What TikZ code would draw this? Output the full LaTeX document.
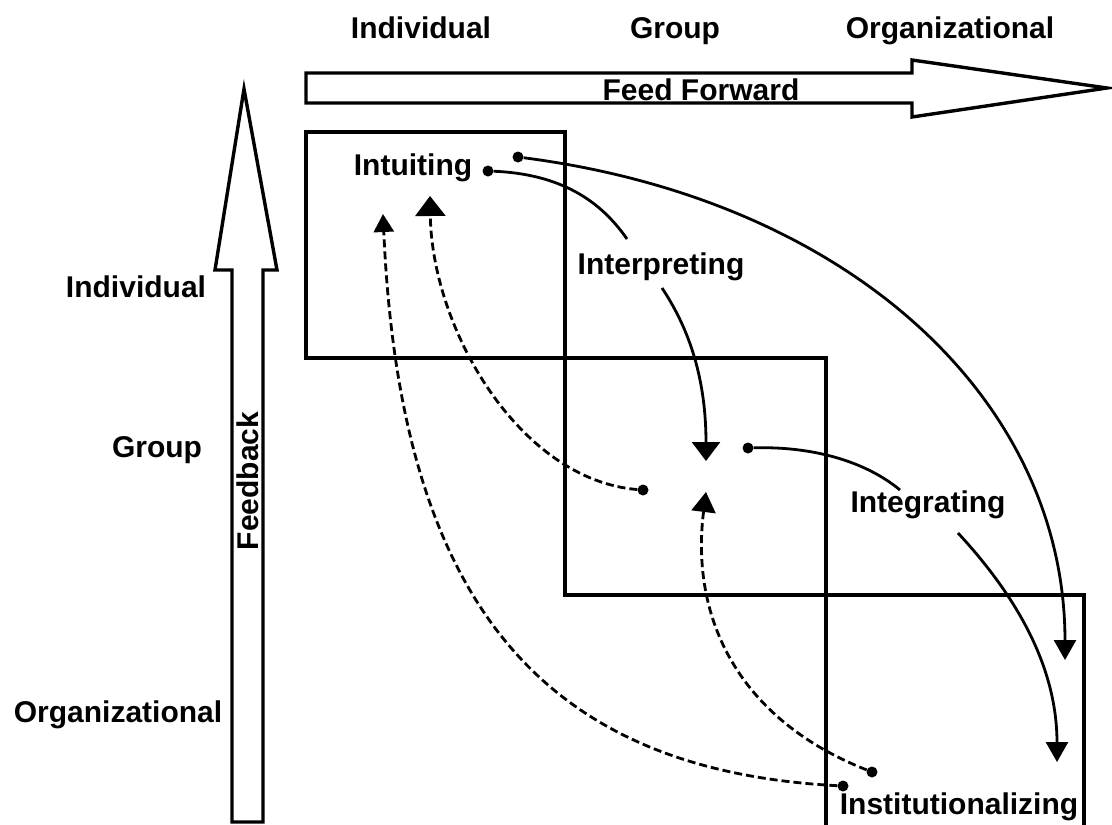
\documentclass[tikz,border=0pt]{standalone}
\usepackage{fontspec}
\setmainfont{Liberation Sans}
\usetikzlibrary{arrows.meta}

\begin{document}
\begin{tikzpicture}[x=1pt, y=-1pt,
    lbl/.style={font=\fontsize{30}{36}\selectfont\bfseries, inner sep=0pt, anchor=base},
    zone/.style={draw, line width=3.2pt},
    bigarrow/.style={draw, line width=3.4pt, fill=white, line join=miter},
    dot/.style={circle, fill, inner sep=0pt, minimum size=11pt},
    flow/.style={line width=2.8pt},
    back/.style={line width=2.8pt, dash pattern=on 8pt off 4pt}
]
    \useasboundingbox (0,0) rectangle (1112,825);

    % Niveaux
    \node[lbl] (colind) at (421,38) {Individual};
    \node[lbl] (colgrp) at (675,38) {Group};
    \node[lbl] (colorg) at (950,38) {Organizational};
    \node[lbl] (rowind) at (136,297) {Individual};
    \node[lbl] (rowgrp) at (157,457) {Group};
    \node[lbl] (roworg) at (118,722) {Organizational};

    % Grandes fleches
    \draw[bigarrow] (306,73) -- (912,73) -- (912,60) -- (1107,88) -- (912,117)
        -- (912,103) -- (306,103) -- cycle;
    \node[lbl] (ff) at (701,100) {Feed Forward};
    \draw[bigarrow] (232,822) -- (232,270) -- (215,270) -- (244,89) -- (277,270)
        -- (263,270) -- (263,822) -- cycle;
    \node[lbl, rotate=90, anchor=center] (fb) at (248,481) {Feedback};

    % Zones
    \draw[zone] (306,132) rectangle (565,358);
    \draw[zone] (565,358) rectangle (826,595);
    \draw[zone] (826,830) -- (826,595) -- (1084,595) -- (1084,830);

    % Processus
    \node[lbl] (intu) at (413,175) {Intuiting};
    \node[lbl] (interp) at (661,274) {Interpreting};
    \node[lbl] (integ) at (928,512) {Integrating};
    \node[lbl] (inst) at (959,814) {Institutionalizing};

    % Points et extremites
    \node[dot] (d1) at (488,171) {};
    \node[dot] (d2) at (518,157) {};
    \node[dot] (d3) at (748,448) {};
    \node[dot] (d4) at (643,490) {};
    \node[dot] (d5) at (872,772) {};
    \node[dot] (d6) at (843,786) {};
    \coordinate (interpin) at (627,239);
    \coordinate (interpout) at (662,288);
    \coordinate (integin) at (900,490);
    \coordinate (integout) at (958,533);
    \coordinate (tipgrp) at (706,461);
    \coordinate (tipinst1) at (1065,660);
    \coordinate (tipinst2) at (1057,762);
    \coordinate (tipind1) at (430,196);
    \coordinate (tipind2) at (383,214);
    \coordinate (tipgrp2) at (706,492);

    % Feed forward
    \draw[flow] (d1) .. controls (560,174) and (600,200) .. (interpin);
    \draw[flow, -{Triangle[width=28pt,length=19pt]}] (interpout) .. controls (690,330) and (706,380) .. (tipgrp);
    \draw[flow] (d3) .. controls (820,446) and (870,465) .. (integin);
    \draw[flow, -{Triangle[width=22pt,length=20pt]}] (integout) .. controls (1020,600) and (1057,670) .. (tipinst2);
    \draw[flow, -{Triangle[width=22pt,length=20pt]}] (d2) .. controls (850,200) and (1065,400) .. (tipinst1);

    % Feedback
    \draw[back, -{Triangle[width=30pt,length=20pt]}] (d4) .. controls (520,480) and (432,330) .. (tipind1);
    \draw[back, -{Triangle[width=20pt,length=18pt]}] (d6) .. controls (540,770) and (400,600) .. (tipind2);
    \draw[back, -{Triangle[width=24pt,length=20pt]}] (d5) .. controls (740,720) and (690,620) .. (tipgrp2);

\end{tikzpicture}
\end{document}
